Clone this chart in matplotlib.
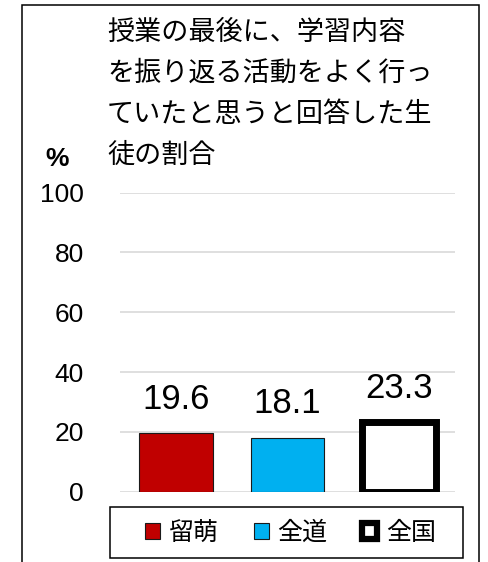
import matplotlib
matplotlib.use("Agg")
import matplotlib.pyplot as plt
from matplotlib.patches import Patch, Rectangle

# data
regions = ["留萌", "全道", "全国"]
values = [19.6, 18.1, 23.3]
title_lines = ["授業の最後に、学習内容",
               "を振り返る活動をよく行っ",
               "ていたと思うと回答した生",
               "徒の割合"]
yticks = [0, 20, 40, 60, 80, 100]

face_colors = ["#C00000", "#00B0F0", "white"]
edge_colors = ["#1a1a1a", "#1a1a1a", "black"]
edge_widths = [0.8, 0.8, 5.0]

num_font = "Liberation Sans"
plt.rcParams["font.family"] = ["Noto Sans CJK JP", "DejaVu Sans"]

fig = plt.figure(figsize=(4.88, 5.62), dpi=100)
ax = fig.add_axes([120/488, 70.3/562, 335/488, 299/562])

x = range(len(regions))
ax.bar(x, values, width=0.66, color=face_colors,
       edgecolor=edge_colors, linewidth=edge_widths, zorder=3)

# value labels above bars
for xi, v in zip(x, values):
    ax.annotate(f"{v}", (xi, v), xytext=(0, 17.5), textcoords="offset points",
                ha="center", va="baseline", fontsize=25,
                family=num_font, clip_on=False)

ax.set_xlim(-0.5, 2.5)
ax.set_ylim(0, 100)
ax.set_yticks(yticks)
ax.set_yticklabels([str(t) for t in yticks], family=num_font, fontsize=19)
ax.set_xticks([])
ax.tick_params(axis="y", length=0, pad=26)
ax.grid(axis="y", color="#D9D9D9", linewidth=1.2, zorder=0)
for s in ax.spines.values():
    s.set_visible(False)

# title, one line at a time
for i, line in enumerate(title_lines):
    fig.text(107/488, 1 - (32 + 41*i)/562, line, fontsize=19.5,
             ha="left", va="center")

fig.text(57.5/488, 1 - 159/562, "%", fontsize=19, ha="center", va="center",
         family=num_font, fontweight="bold")

# legend (frame drawn separately)
handles = [Patch(facecolor=fc, edgecolor=ec, linewidth=lw)
           for fc, ec, lw in zip(face_colors, edge_colors, [0.8, 0.8, 4.5])]
fig.legend(handles, regions, loc="center", ncol=3,
           bbox_to_anchor=(290.5/488, 1 - 533/562),
           frameon=False, prop={"size": 18},
           handlelength=0.6, handleheight=0.6, handletextpad=0.35,
           columnspacing=1.4)
fig.patches.append(Rectangle((110/488, 1 - 558/562), 353/488, 51/562,
                             transform=fig.transFigure, fill=False,
                             edgecolor="black", linewidth=1.1))

# outer border
fig.patches.append(Rectangle((21.5/488, -0.1), 457.5/488, 1.1 - 5/562,
                             transform=fig.transFigure, fill=False,
                             edgecolor="black", linewidth=1.1))

fig.savefig("out.png", dpi=100)
